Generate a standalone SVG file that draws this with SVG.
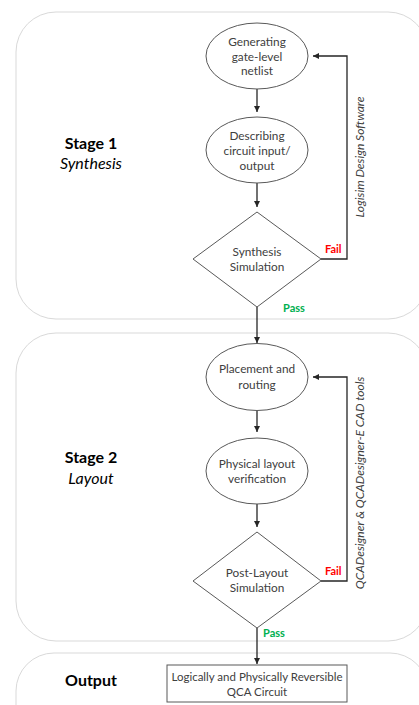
<svg xmlns="http://www.w3.org/2000/svg" width="419" height="705" viewBox="0 0 419 705">
<defs>
<marker id="ah" viewBox="0 0 10 10" refX="10" refY="5" markerWidth="6" markerHeight="6" markerUnits="userSpaceOnUse" orient="auto">
<path d="M0,0 L10,5 L0,10 z" fill="#262626"/>
</marker>
<style>
.panel{fill:#ffffff;stroke:#d9d9d9;stroke-width:1}
.node{fill:#ffffff;stroke:#595959;stroke-width:1}
.lbl{font-family:Lato,"Liberation Sans",sans-serif;font-size:11.8px;fill:#404040;text-anchor:middle}
.stage{font-family:Lato,"Liberation Sans",sans-serif;font-size:16px;fill:#000000;text-anchor:middle}
.b{font-weight:bold}
.i{font-style:italic}
.conn{fill:none;stroke:#262626;stroke-width:1.3}
.fail{font-family:Lato,"Liberation Sans",sans-serif;font-size:11px;font-weight:bold;fill:#ff0000}
.pass{font-family:Lato,"Liberation Sans",sans-serif;font-size:11px;font-weight:bold;fill:#00b050}
.side{font-family:Lato,"Liberation Sans",sans-serif;font-size:12px;font-style:italic;fill:#404040;text-anchor:middle}
</style>
</defs>
<rect width="419" height="705" fill="#ffffff"/>
<g id="panel-stage1">
<rect class="panel" x="16" y="12" width="412" height="307" rx="40" ry="40"/>
<text class="stage b" x="91" y="149">Stage 1</text>
<text class="stage i" x="91" y="169">Synthesis</text>
</g>
<g id="panel-stage2">
<rect class="panel" x="16" y="333" width="412" height="308" rx="40" ry="40"/>
<text class="stage b" x="91" y="463">Stage 2</text>
<text class="stage i" x="91" y="484">Layout</text>
</g>
<g id="panel-output">
<rect class="panel" x="16" y="653" width="412" height="90" rx="38" ry="38"/>
<text class="stage b" x="91" y="686">Output</text>
</g>
<g id="connectors">
<line class="conn" x1="257" y1="89" x2="257" y2="112" marker-end="url(#ah)"/>
<line class="conn" x1="257" y1="183" x2="257" y2="207" marker-end="url(#ah)"/>
<polyline class="conn" points="321,259 347,259 347,56 313,56" marker-end="url(#ah)"/>
<line class="conn" x1="257" y1="307" x2="257" y2="343" marker-end="url(#ah)"/>
<line class="conn" x1="257" y1="411" x2="257" y2="432" marker-end="url(#ah)"/>
<line class="conn" x1="257" y1="504" x2="257" y2="527" marker-end="url(#ah)"/>
<polyline class="conn" points="321,581 347,581 347,377 313,377" marker-end="url(#ah)"/>
<line class="conn" x1="257" y1="628" x2="257" y2="664" marker-end="url(#ah)"/>
<text class="fail" x="325" y="253">Fail</text>
<text class="pass" x="283" y="312">Pass</text>
<text class="fail" x="325" y="575">Fail</text>
<text class="pass" x="263" y="637">Pass</text>
<text class="side" transform="translate(364,157) rotate(-90)">Logisim Design Software</text>
<text class="side" transform="translate(364,483) rotate(-90)">QCADesigner &amp; QCADesigner-E CAD tools</text>
</g>
<g id="n-netlist">
<ellipse class="node" cx="257" cy="56" rx="51" ry="33"/>
<text class="lbl" x="257" y="46">Generating</text>
<text class="lbl" x="257" y="60.5">gate-level</text>
<text class="lbl" x="257" y="75">netlist</text>
</g>
<g id="n-describe">
<ellipse class="node" cx="257" cy="150" rx="51" ry="33"/>
<text class="lbl" x="257" y="140">Describing</text>
<text class="lbl" x="257" y="155">circuit input/</text>
<text class="lbl" x="257" y="169.5">output</text>
</g>
<g id="n-synsim">
<polygon class="node" points="257,212 321,259 257,307 193,259"/>
<text class="lbl" x="257" y="256">Synthesis</text>
<text class="lbl" x="257" y="271">Simulation</text>
</g>
<g id="n-place">
<ellipse class="node" cx="257" cy="377" rx="51" ry="33.5"/>
<text class="lbl" x="257" y="373">Placement and</text>
<text class="lbl" x="257" y="389">routing</text>
</g>
<g id="n-verify">
<ellipse class="node" cx="257" cy="471" rx="51" ry="33"/>
<text class="lbl" x="257" y="468">Physical layout</text>
<text class="lbl" x="257" y="483">verification</text>
</g>
<g id="n-postsim">
<polygon class="node" points="257,532 321,581 257,628 193,581"/>
<text class="lbl" x="257" y="577">Post-Layout</text>
<text class="lbl" x="257" y="592">Simulation</text>
</g>
<g id="n-output">
<rect class="node" x="167" y="665" width="180" height="37"/>
<text class="lbl" x="257" y="681" style="font-size:11.5px">Logically and Physically Reversible</text>
<text class="lbl" x="257" y="695.5" style="font-size:11.5px">QCA Circuit</text>
</g>
</svg>
